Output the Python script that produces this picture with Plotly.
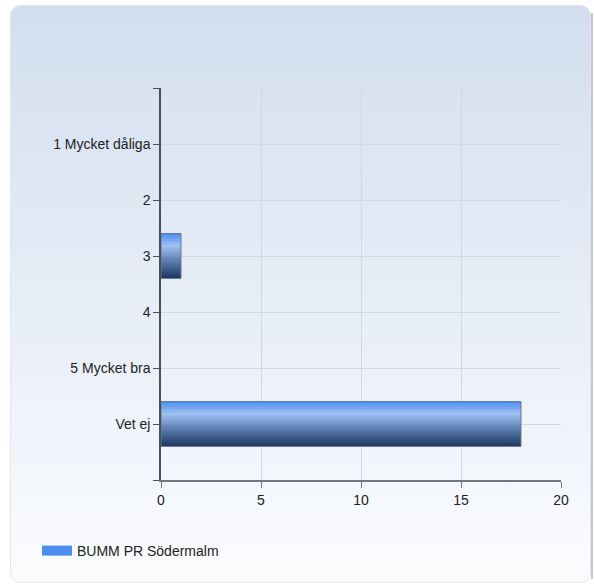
import base64
import plotly.graph_objects as go

# ---- data ----
categories = ["1 Mycket dåliga", "2", "3", "4", "5 Mycket bra", "Vet ej"]
values = [0, 0, 1, 0, 0, 18]
series_name = "BUMM PR Södermalm"
x_ticks = [0, 5, 10, 15, 20]

W, H = 594, 585
L, R, T, B = 161, 561, 88, 480  # plot area pixels

def hex2rgb(h):
    h = h.lstrip("#")
    return tuple(int(h[i:i + 2], 16) for i in (0, 2, 4))

stops = [(0.0, "#4a8cf0"), (0.28, "#a0c2f2"), (0.55, "#6a8bc0"), (1.0, "#1d3762")]

def grad(t):
    for (t0, c0), (t1, c1) in zip(stops, stops[1:]):
        if t <= t1:
            f = (t - t0) / (t1 - t0) if t1 > t0 else 0
            a, b = hex2rgb(c0), hex2rgb(c1)
            return "rgb(%d,%d,%d)" % tuple(round(a[k] + (b[k] - a[k]) * f) for k in range(3))
    return stops[-1][1]

ypos = list(range(len(categories)))
vals_nz = [v if v else None for v in values]
fig = go.Figure()
N = 30
bw = 0.8
sw = bw / N
for i in range(N):
    fig.add_trace(go.Bar(
        x=vals_nz, y=ypos, orientation="h", width=sw * 1.15, offset=-bw / 2 + i * sw,
        marker=dict(color=grad((i + 0.5) / N), line=dict(width=0)),
        showlegend=False, hoverinfo="skip"))
fig.add_trace(go.Bar(
    x=vals_nz, y=ypos, orientation="h", width=bw, offset=-bw / 2,
    marker=dict(color="rgba(0,0,0,0)", line=dict(color="#6a7890", width=1)),
    showlegend=False, name=series_name))
fig.add_trace(go.Scatter(
    x=[None], y=[None], mode="lines", name=series_name,
    line=dict(color="#4a8ef0", width=12), showlegend=True))

# background panel as svg gradient image
svg = '''<svg xmlns="http://www.w3.org/2000/svg" width="584" height="578" viewBox="0 0 584 578">
<defs><linearGradient id="g" x1="0" y1="0" x2="0" y2="1">
<stop offset="0" stop-color="#d2deef"/><stop offset="1" stop-color="#fbfcfe"/></linearGradient></defs>
<rect x="581" y="8" width="2" height="566" fill="#c4c8ce"/>
<rect x="0.5" y="0.5" width="580" height="577" rx="10" ry="10" fill="url(#g)" stroke="#e2e6ec" stroke-width="1"/>
</svg>'''
src = "data:image/svg+xml;base64," + base64.b64encode(svg.encode()).decode()
pw, ph = R - L, B - T
def px2x(px): return (px - L) / pw
def py2y(py): return (B - py) / ph

fig.update_layout(
    width=W, height=H,
    margin=dict(l=L, r=W - R, t=T, b=H - B, pad=0),
    paper_bgcolor="white", plot_bgcolor="rgba(0,0,0,0)",
    barmode="overlay",
    font=dict(family="Liberation Sans, Arial, sans-serif", size=14, color="#222"),
    images=[dict(source=src, xref="paper", yref="paper", x=px2x(10), y=py2y(5),
                 sizex=584 / pw, sizey=578 / ph, xanchor="left", yanchor="top",
                 sizing="stretch", layer="below")],
    xaxis=dict(range=[0, 20], tickvals=x_ticks, showgrid=True, gridcolor="#d2d8e2", gridwidth=1,
               showline=True, linecolor="#6e7680", linewidth=1.5, ticks="outside", ticklen=6,
               tickcolor="#6e7680", zeroline=False, fixedrange=True),
    yaxis=dict(range=[6, -1], tickmode="array", tickvals=[-1] + ypos + [6],
               ticktext=[""] + categories + [""], showgrid=True, gridcolor="#d2d8e2",
               showline=True, linecolor="#4a5058", linewidth=1.5, ticks="outside", ticklen=6,
               tickcolor="#4a5058", zeroline=False, fixedrange=True),
    legend=dict(x=px2x(37), y=py2y(535), xanchor="left", yanchor="top",
                bgcolor="rgba(0,0,0,0)", font=dict(size=14, color="#222")),
    showlegend=True,
)
fig.write_html("out.html", config={"displayModeBar": False},
               post_script="document.body.style.margin='0';document.body.style.overflow='hidden';")
